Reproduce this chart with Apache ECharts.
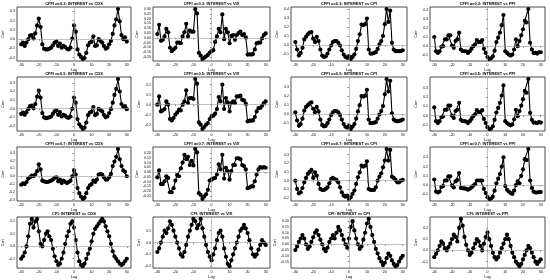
<!DOCTYPE html>
<html><head><meta charset="utf-8">
<script src="https://cdn.jsdelivr.net/npm/echarts@6/dist/echarts.min.js"></script>
<style>html,body{margin:0;padding:0;background:#fff}#c{width:550px;height:280px}</style>
</head><body><div id="c"></div>
<script>
const lags=[-30,-29,-28,-27,-26,-25,-24,-23,-22,-21,-20,-19,-18,-17,-16,-15,-14,-13,-12,-11,-10,-9,-8,-7,-6,-5,-4,-3,-2,-1,0,1,2,3,4,5,6,7,8,9,10,11,12,13,14,15,16,17,18,19,20,21,22,23,24,25,26,27,28,29,30];
const xTicks=[-30,-20,-10,0,10,20,30];
const titles=[
"CFFI α=0.3: INTEREST vs CDS","CFFI α=0.3: INTEREST vs VIX","CFFI α=0.3: INTEREST vs CPI","CFFI α=0.3: INTEREST vs PPI",
"CFFI α=0.5: INTEREST vs CDS","CFFI α=0.5: INTEREST vs VIX","CFFI α=0.5: INTEREST vs CPI","CFFI α=0.5: INTEREST vs PPI",
"CFFI α=0.7: INTEREST vs CDS","CFFI α=0.7: INTEREST vs VIX","CFFI α=0.7: INTEREST vs CPI","CFFI α=0.7: INTEREST vs PPI",
"CFI: INTEREST vs CDS","CFI: INTEREST vs VIX","CFI: INTEREST vs CPI","CFI: INTEREST vs PPI"];

const cds03=[-0.056,-0.037,-0.074,-0.037,0.000,0.037,0.044,0.007,0.063,0.148,
0.222,0.130,-0.056,-0.104,-0.111,-0.111,-0.104,-0.093,-0.067,-0.037,
-0.026,-0.074,-0.048,-0.093,-0.074,-0.085,-0.104,-0.111,-0.093,0.007,
0.148,
0.081,-0.111,-0.167,-0.193,-0.215,-0.204,-0.148,-0.067,-0.037,-0.030,
0.030,-0.074,-0.067,0.000,-0.019,-0.037,-0.074,-0.104,-0.093,-0.056,
-0.019,0.056,0.148,0.215,0.326,0.193,0.044,0.000,0.019,-0.026];
const vix03=[0.039,0.136,-0.032,-0.021,0.014,0.093,0.057,-0.104,-0.139,-0.121,
-0.104,-0.050,-0.050,-0.057,0.014,0.057,0.146,0.014,0.075,0.064,
0.064,0.300,0.254,-0.157,-0.186,-0.221,-0.207,-0.193,-0.179,-0.157,
-0.139,
-0.129,-0.043,0.014,0.093,0.057,0.243,-0.014,0.093,0.057,-0.057,
0.021,0.029,-0.021,0.029,0.050,0.064,0.029,0.039,0.004,-0.175,
-0.172,-0.175,-0.170,-0.121,-0.057,-0.050,-0.050,-0.007,0.029,0.046];
const cpi03=[0.034,-0.049,-0.117,-0.087,-0.030,0.064,0.094,0.121,0.140,0.147,
0.072,0.034,0.094,0.045,-0.049,-0.117,-0.132,-0.125,-0.094,-0.049,
-0.004,0.034,0.045,0.045,0.026,-0.004,-0.057,-0.106,-0.132,-0.143,
-0.125,
-0.155,-0.132,-0.106,-0.042,0.045,0.121,0.230,0.223,0.234,0.298,
-0.049,-0.094,-0.094,-0.087,-0.079,-0.042,0.008,0.045,0.102,0.234,
0.404,0.260,0.385,0.026,-0.049,-0.068,-0.068,-0.066,-0.066,-0.057];
const ppi03=[0.100,-0.056,-0.074,-0.056,-0.007,0.000,0.074,0.074,0.119,0.119,
0.007,-0.019,0.056,0.074,0.148,-0.037,-0.056,-0.056,-0.056,-0.074,
-0.056,-0.030,0.000,0.019,0.067,0.044,0.044,0.067,-0.030,-0.074,
-0.119,
-0.141,-0.133,-0.111,-0.050,0.045,0.093,0.148,0.230,0.341,-0.056,
-0.074,-0.093,-0.104,-0.093,-0.037,0.074,0.000,0.056,0.119,0.185,
0.278,0.259,0.407,0.037,-0.037,-0.074,-0.074,-0.081,-0.067,-0.067];

const cds05=[-0.06,-0.045,-0.07,-0.04,-0.005,0.03,0.035,0.005,0.055,0.14,
0.21,0.13,-0.05,-0.1,-0.11,-0.105,-0.1,-0.09,-0.06,-0.03,
-0.02,-0.07,-0.04,-0.09,-0.07,-0.08,-0.1,-0.105,-0.09,0.0,
0.13,
0.07,-0.12,-0.18,-0.21,-0.235,-0.22,-0.16,-0.075,-0.045,-0.035,
0.02,-0.075,-0.06,0.0,-0.015,-0.03,-0.07,-0.1,-0.09,-0.05,
-0.005,0.07,0.16,0.23,0.345,0.2,0.055,0.02,0.03,-0.005];
const vix05=[0.0,0.083,-0.067,-0.057,-0.043,0.033,0.0,-0.143,-0.157,-0.133,
-0.1,-0.077,-0.05,-0.057,0.0,0.033,0.143,0.017,0.067,0.067,
0.057,0.257,0.21,-0.177,-0.2,-0.243,-0.223,-0.2,-0.183,-0.143,
-0.117,
-0.11,-0.09,-0.043,0.077,0.033,0.2,-0.043,0.067,0.023,-0.067,
0.017,0.033,0.017,0.083,0.083,0.09,0.05,0.043,0.01,-0.167,
-0.16,-0.16,-0.157,-0.123,-0.067,-0.033,-0.033,-0.01,0.017,0.033];
const cpi05=[0.02,-0.07,-0.13,-0.11,-0.05,0.04,0.08,0.1,0.12,0.13,
0.06,0.02,0.08,0.03,-0.06,-0.12,-0.135,-0.13,-0.1,-0.06,
-0.01,0.02,0.035,0.035,0.02,-0.01,-0.06,-0.11,-0.14,-0.15,
-0.13,
-0.165,-0.14,-0.11,-0.05,0.03,0.1,0.2,0.195,0.205,0.27,
-0.06,-0.1,-0.1,-0.095,-0.09,-0.05,-0.005,0.035,0.09,0.22,
0.39,0.25,0.37,0.01,-0.06,-0.075,-0.08,-0.075,-0.07,-0.06];
const ppi05=[0.09,-0.06,-0.08,-0.06,-0.015,-0.01,0.065,0.065,0.11,0.11,
0.0,-0.025,0.05,0.065,0.14,-0.045,-0.06,-0.06,-0.065,-0.08,
-0.06,-0.035,-0.005,0.015,0.06,0.04,0.04,0.06,-0.035,-0.08,
-0.125,
-0.145,-0.14,-0.115,-0.045,0.035,0.085,0.14,0.22,0.33,-0.06,
-0.08,-0.095,-0.105,-0.095,-0.04,0.065,-0.005,0.05,0.11,0.18,
0.27,0.25,0.4,0.03,-0.045,-0.075,-0.075,-0.08,-0.07,-0.075];

const cds07=[-0.109,-0.091,-0.1,-0.074,-0.030,-0.013,0.009,0.0,0.022,0.065,
0.152,0.087,-0.057,-0.065,-0.074,-0.074,-0.065,-0.057,-0.043,-0.022,
-0.013,-0.065,-0.043,-0.087,-0.057,-0.074,-0.087,-0.074,-0.057,0.0,
0.074,
0.022,-0.152,-0.217,-0.261,-0.291,-0.274,-0.217,-0.152,-0.117,-0.1,
-0.057,-0.074,-0.043,0.022,0.030,0.022,-0.013,-0.043,-0.043,-0.013,
0.030,0.130,0.187,0.248,0.348,0.217,0.130,0.074,0.057,0.0];
const vix07=[-0.054,0.018,-0.125,-0.125,-0.096,-0.043,-0.061,-0.211,-0.211,-0.168,
-0.089,-0.032,-0.043,0.039,0.1,0.182,0.136,0.161,0.075,0.118,
0.071,0.243,0.207,-0.221,-0.239,-0.282,-0.257,-0.232,-0.186,-0.089,
-0.079,
-0.068,-0.061,-0.025,0.082,0.029,0.182,-0.068,0.046,0.011,-0.079,
0.011,0.075,0.075,0.146,0.146,0.136,0.075,0.064,0.029,-0.168,
-0.161,-0.150,-0.150,-0.096,-0.025,0.029,0.054,0.046,0.054,0.046];
const cpi07=[0.0,-0.096,-0.146,-0.135,-0.085,-0.019,0.031,0.077,0.1,0.123,
0.031,0.096,0.058,-0.038,-0.096,-0.108,-0.108,-0.096,-0.077,-0.031,
0.019,0.031,0.019,0.008,-0.019,-0.077,-0.135,-0.173,-0.185,-0.173,
-0.212,
-0.192,-0.154,-0.115,-0.038,0.038,0.096,0.173,0.162,0.173,0.223,
-0.096,-0.108,-0.108,-0.108,-0.077,0.0,0.046,0.085,0.154,0.231,
0.365,0.231,0.354,0.046,0.031,0.008,-0.019,-0.019,0.0,0.008];
const ppi07=[0.06,-0.07,-0.08,-0.07,-0.02,-0.01,0.05,0.05,0.095,0.095,
-0.005,-0.025,0.04,0.055,0.13,-0.03,-0.035,-0.035,-0.04,-0.05,
-0.04,-0.025,-0.005,0.01,0.05,0.05,0.05,0.05,-0.04,-0.085,
-0.13,
-0.15,-0.145,-0.125,-0.06,0.02,0.07,0.12,0.2,0.3,-0.01,
-0.05,-0.07,-0.085,-0.095,-0.06,0.0,0.04,0.02,0.1,0.17,
0.28,0.27,0.39,0.05,-0.03,-0.07,-0.08,-0.08,-0.075,-0.075];

const cfiCds=[-0.10,-0.08,-0.05,0.0,0.08,0.18,0.22,0.15,0.20,0.22,
0.12,0.02,0.0,0.05,0.10,0.12,0.08,0.05,-0.02,-0.08,
-0.12,-0.15,-0.14,-0.10,-0.05,0.02,0.08,0.12,0.18,0.20,
0.15,
0.05,-0.05,-0.12,-0.15,-0.16,-0.14,-0.10,-0.06,-0.02,0.04,
0.10,0.14,0.16,0.18,0.20,0.22,0.20,0.16,0.12,0.08,
0.02,-0.04,-0.08,-0.10,-0.12,-0.14,-0.15,-0.14,-0.12,-0.10];
const cfiVix=[-0.08,-0.05,0.0,0.05,0.10,0.08,0.12,0.18,0.15,0.10,
0.05,0.0,-0.05,-0.10,-0.12,-0.08,-0.02,0.05,0.10,0.15,
0.20,0.18,0.12,0.15,0.20,0.12,0.05,-0.02,-0.08,-0.12,
-0.15,
-0.10,-0.05,0.02,0.08,0.10,0.05,-0.05,-0.12,-0.18,-0.20,
-0.15,-0.10,-0.05,0.0,0.05,0.10,0.12,0.15,0.12,0.08,
0.02,-0.05,-0.10,-0.12,-0.10,-0.06,-0.02,0.02,0.0,-0.02];
const cfiCpi=[-0.05,-0.02,0.02,0.05,0.08,0.05,0.0,-0.04,-0.02,0.02,
0.06,0.10,0.12,0.08,0.04,0.0,-0.04,-0.06,-0.03,0.02,
0.05,0.08,0.05,0.10,0.15,0.12,0.08,0.04,0.0,-0.03,
0.05,
0.15,0.20,0.12,0.05,0.0,-0.04,-0.02,0.04,0.10,0.18,
0.22,0.15,0.08,0.02,-0.04,-0.08,-0.12,-0.15,-0.18,-0.16,
-0.12,-0.08,-0.10,-0.14,-0.17,-0.19,-0.18,-0.15,-0.12,-0.1];
const cfiPpi=[-0.06,-0.03,0.0,0.04,0.08,0.06,0.02,0.0,0.03,0.06,
0.10,0.14,0.12,0.08,0.20,0.28,0.22,0.12,0.05,0.0,
-0.04,-0.02,0.02,0.06,0.10,0.08,0.04,0.0,0.06,0.12,
0.16,
0.10,0.04,-0.02,-0.06,-0.08,-0.06,-0.02,0.02,0.06,0.10,
0.14,0.10,0.04,-0.02,-0.06,-0.10,-0.12,-0.14,-0.12,-0.08,
-0.04,0.0,0.04,0.02,-0.02,-0.06,-0.10,-0.12,-0.10,-0.08];

const yTicks=[
[-0.2,-0.1,0,0.1,0.2,0.3],[-0.2,-0.15,-0.1,-0.05,0,0.05,0.1,0.15,0.2,0.25,0.3],[-0.1,0,0.1,0.2,0.3,0.4],[-0.1,0,0.1,0.2,0.3,0.4],
[-0.2,-0.1,0,0.1,0.2,0.3],[-0.2,-0.1,0,0.1,0.2],[-0.1,0,0.1,0.2,0.3],[-0.1,0,0.1,0.2,0.3],
[-0.3,-0.2,-0.1,0,0.1,0.2,0.3],[-0.25,-0.2,-0.15,-0.1,-0.05,0,0.05,0.1,0.15,0.2],[-0.2,-0.1,0,0.1,0.2,0.3],[-0.1,0,0.1,0.2,0.3],
[-0.1,0,0.1,0.2],[-0.2,-0.1,0,0.1],[-0.15,-0.1,-0.05,0,0.05,0.1,0.15,0.2],[-0.1,0,0.1,0.2]];

const panelData=[cds03,vix03,cpi03,ppi03,cds05,vix05,cpi05,ppi05,cds07,vix07,cpi07,ppi07,cfiCds,cfiVix,cfiCpi,cfiPpi];

const colLeft=[17,153,291,430], colW=[114,117,116,115], rowTop=[7,77,147,217], H=54;
const FONT='"Liberation Sans", Arial, sans-serif';
const grids=[],xAxes=[],yAxes=[],series=[],titleComps=[];
panelData.forEach((vals,i)=>{
  const r=Math.floor(i/4), c=i%4;
  const lo=Math.min(...vals), hi=Math.max(...vals), pad=(hi-lo)*0.04;
  const tk=yTicks[i];
  const dec=tk.some(v=>Math.abs(Math.round(v*10)-v*10)>1e-6)?2:1;
  grids.push({left:colLeft[c],top:rowTop[r],width:colW[c],height:H,show:true,borderColor:'#000',borderWidth:0.7,backgroundColor:'rgba(0,0,0,0)'});
  titleComps.push({text:titles[i],left:colLeft[c]+colW[c]/2,top:rowTop[r]-5.5,textAlign:'center',
    textStyle:{fontSize:4,fontWeight:'bold',color:'#000',fontFamily:FONT},padding:0});
  xAxes.push({type:'value',gridIndex:i,min:-32.4,max:32.4,name:'Lag',nameLocation:'middle',nameGap:6.5,
    nameTextStyle:{fontSize:3.8,color:'#000',fontFamily:FONT},
    axisLine:{show:false},splitLine:{show:false},
    axisTick:{show:true,length:1.5,lineStyle:{color:'#000',width:0.5},customValues:xTicks},
    axisLabel:{show:true,customValues:xTicks,fontSize:3.5,margin:2,color:'#000',fontFamily:FONT}});
  yAxes.push({type:'value',gridIndex:i,min:lo-pad,max:hi+pad,name:'Corr',nameLocation:'middle',nameGap:11,
    nameTextStyle:{fontSize:3.8,color:'#000',fontFamily:FONT},
    axisLine:{show:false},splitLine:{show:false},
    axisTick:{show:true,length:1.5,lineStyle:{color:'#000',width:0.5},customValues:tk},
    axisLabel:{show:true,customValues:tk,fontSize:3.5,margin:2,color:'#000',fontFamily:FONT,
      formatter:v=>Number(v).toFixed(dec)}});
  series.push({type:'line',xAxisIndex:i,yAxisIndex:i,data:lags.map((l,k)=>[l,vals[k]]),
    symbol:'circle',symbolSize:4.2,showSymbol:true,itemStyle:{color:'#000'},
    lineStyle:{color:'#000',width:1.1},animation:false,z:3,
    markLine:{silent:true,symbol:['none','none'],label:{show:false},animation:false,
      lineStyle:{color:'#9a9a9a',type:'solid',width:0.6},
      data:[{yAxis:0},{xAxis:0}]}});
});
const chart=echarts.init(document.getElementById('c'),null,{renderer:'canvas'});
chart.setOption({animation:false,backgroundColor:'#fff',title:titleComps,grid:grids,xAxis:xAxes,yAxis:yAxes,series:series});
</script></body></html>
